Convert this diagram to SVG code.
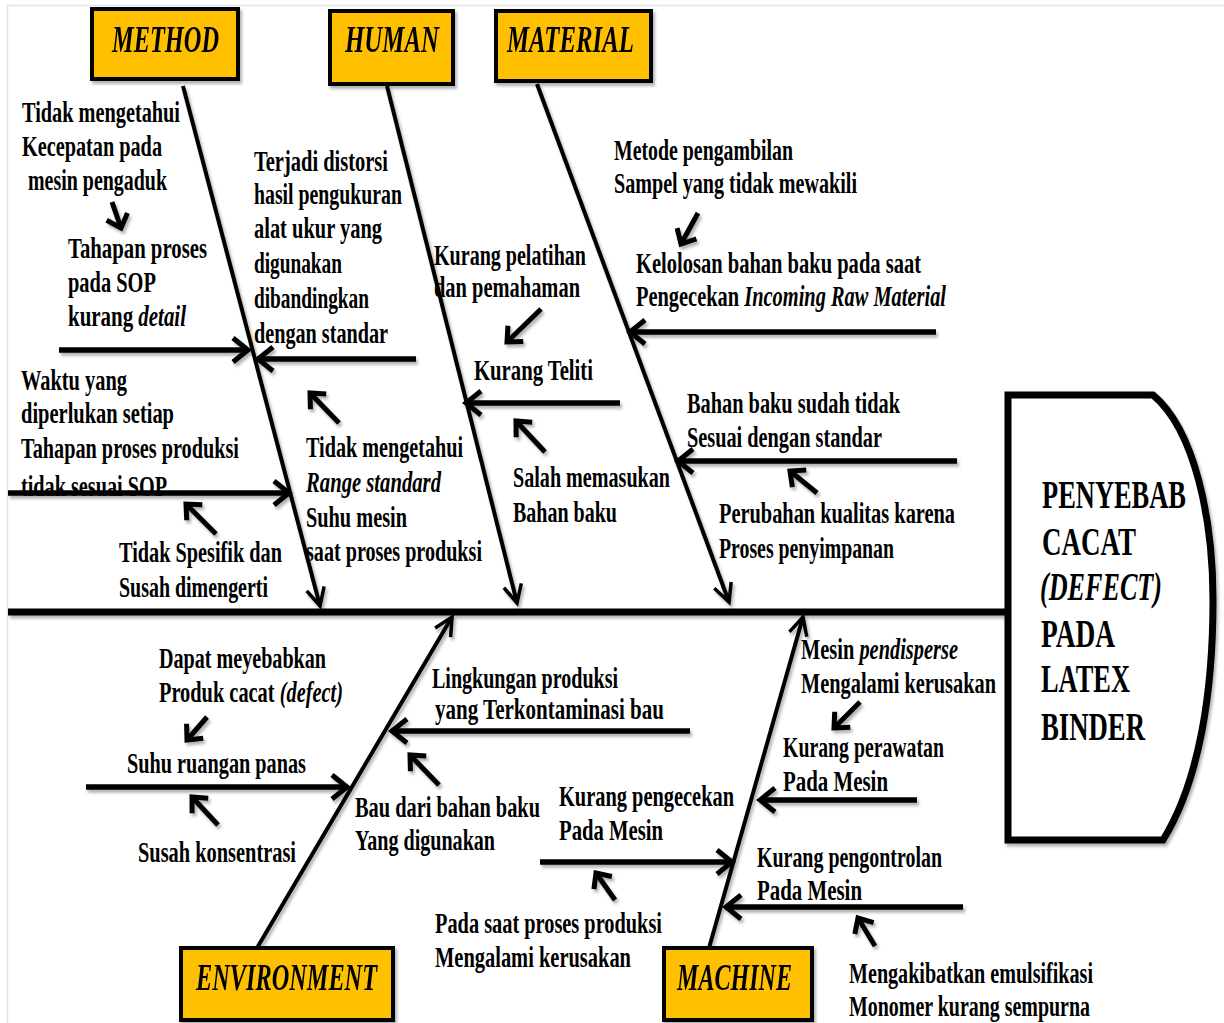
<svg xmlns="http://www.w3.org/2000/svg" width="1224" height="1023" viewBox="0 0 1224 1023">
<style>
.t{font-family:"Liberation Serif","Times New Roman",serif;font-weight:bold;font-size:29px;fill:#000}
.i{font-style:italic}
.lbl{font-size:37px;font-style:italic}
.hd{font-size:41px}
.box{fill:#FFC000;stroke:#000;stroke-width:4}
.ln{stroke:#000;fill:none}
.bone{stroke-width:4;marker-end:url(#mb)}
.ha{stroke-width:5.5;marker-end:url(#mh)}
.sa{stroke-width:5;marker-end:url(#ms)}
</style>
<defs>
<filter id="sh" x="-10%" y="-10%" width="120%" height="120%">
<feDropShadow dx="2" dy="3" stdDeviation="1.5" flood-color="#000" flood-opacity="0.3"/>
</filter>
<marker id="mb" markerUnits="userSpaceOnUse" viewBox="-25 -25 50 50" markerWidth="50" markerHeight="50" refX="0" refY="0" orient="auto">
<path d="M-18,-9 L0,0 L-18,9" fill="none" stroke="#000" stroke-width="3.5"/>
</marker>
<marker id="mh" markerUnits="userSpaceOnUse" viewBox="-25 -25 50 50" markerWidth="50" markerHeight="50" refX="0" refY="0" orient="auto">
<path d="M-15,-12 L0,0 L-15,12" fill="none" stroke="#000" stroke-width="5"/>
</marker>
<marker id="ms" markerUnits="userSpaceOnUse" viewBox="-25 -25 50 50" markerWidth="50" markerHeight="50" refX="0" refY="0" orient="auto">
<path d="M-12,-11 L0,0 L-12,11" fill="none" stroke="#000" stroke-width="5"/>
</marker>
</defs>
<rect width="1224" height="1023" fill="#fff"/>
<path d="M7.5,1023 V5.5 H1224" fill="none" stroke="#e4e4e4" stroke-width="1.5"/>

<g id="labels" class="t">
<text x="22" y="122" textLength="158" lengthAdjust="spacingAndGlyphs">Tidak mengetahui</text>
<text x="22" y="156" textLength="140" lengthAdjust="spacingAndGlyphs">Kecepatan pada</text>
<text x="28" y="190" textLength="139" lengthAdjust="spacingAndGlyphs">mesin pengaduk</text>
<text x="68" y="258" textLength="139" lengthAdjust="spacingAndGlyphs">Tahapan proses</text>
<text x="68" y="292" textLength="88" lengthAdjust="spacingAndGlyphs">pada SOP</text>
<text x="68" y="326" textLength="118" lengthAdjust="spacingAndGlyphs">kurang <tspan class="i">detail</tspan></text>
<text x="254" y="171" textLength="134" lengthAdjust="spacingAndGlyphs">Terjadi distorsi</text>
<text x="254" y="204" textLength="148" lengthAdjust="spacingAndGlyphs">hasil pengukuran</text>
<text x="254" y="238" textLength="128" lengthAdjust="spacingAndGlyphs">alat ukur yang</text>
<text x="254" y="273" textLength="88" lengthAdjust="spacingAndGlyphs">digunakan</text>
<text x="254" y="308" textLength="115" lengthAdjust="spacingAndGlyphs">dibandingkan</text>
<text x="254" y="343" textLength="134" lengthAdjust="spacingAndGlyphs">dengan standar</text>
<text x="21" y="390" textLength="106" lengthAdjust="spacingAndGlyphs">Waktu yang</text>
<text x="21" y="423" textLength="153" lengthAdjust="spacingAndGlyphs">diperlukan  setiap</text>
<text x="21" y="458" textLength="218" lengthAdjust="spacingAndGlyphs">Tahapan proses produksi</text>
<text x="21" y="496" textLength="146" lengthAdjust="spacingAndGlyphs">tidak sesuai SOP</text>
<text x="119" y="562" textLength="163" lengthAdjust="spacingAndGlyphs">Tidak Spesifik dan</text>
<text x="119" y="597" textLength="149" lengthAdjust="spacingAndGlyphs">Susah dimengerti</text>
<text x="306" y="457" textLength="157" lengthAdjust="spacingAndGlyphs">Tidak  mengetahui</text>
<text x="306" y="492" textLength="135" lengthAdjust="spacingAndGlyphs" class="i">Range standard</text>
<text x="306" y="527" textLength="101" lengthAdjust="spacingAndGlyphs">Suhu  mesin</text>
<text x="306" y="561" textLength="176" lengthAdjust="spacingAndGlyphs">saat proses produksi</text>
<text x="434" y="265" textLength="152" lengthAdjust="spacingAndGlyphs">Kurang pelatihan</text>
<text x="434" y="297" textLength="146" lengthAdjust="spacingAndGlyphs">dan pemahaman</text>
<text x="474" y="380" textLength="119" lengthAdjust="spacingAndGlyphs">Kurang  Teliti</text>
<text x="513" y="487" textLength="157" lengthAdjust="spacingAndGlyphs">Salah memasukan</text>
<text x="513" y="522" textLength="104" lengthAdjust="spacingAndGlyphs">Bahan baku</text>
<text x="614" y="160" textLength="179" lengthAdjust="spacingAndGlyphs">Metode pengambilan</text>
<text x="614" y="193" textLength="243" lengthAdjust="spacingAndGlyphs">Sampel yang tidak mewakili</text>
<text x="636" y="273" textLength="285" lengthAdjust="spacingAndGlyphs">Kelolosan bahan baku pada saat</text>
<text x="636" y="306" textLength="310" lengthAdjust="spacingAndGlyphs">Pengecekan <tspan class="i">Incoming Raw Material</tspan></text>
<text x="687" y="413" textLength="213" lengthAdjust="spacingAndGlyphs">Bahan baku sudah tidak</text>
<text x="687" y="447" textLength="195" lengthAdjust="spacingAndGlyphs">Sesuai dengan standar</text>
<text x="719" y="523" textLength="236" lengthAdjust="spacingAndGlyphs">Perubahan  kualitas karena</text>
<text x="719" y="558" textLength="175" lengthAdjust="spacingAndGlyphs">Proses penyimpanan</text>
<text x="159" y="668" textLength="167" lengthAdjust="spacingAndGlyphs">Dapat meyebabkan</text>
<text x="159" y="702" textLength="184" lengthAdjust="spacingAndGlyphs">Produk  cacat <tspan class="i">(defect)</tspan></text>
<text x="127" y="773" textLength="179" lengthAdjust="spacingAndGlyphs">Suhu  ruangan  panas</text>
<text x="138" y="862" textLength="158" lengthAdjust="spacingAndGlyphs">Susah konsentrasi</text>
<text x="355" y="817" textLength="185" lengthAdjust="spacingAndGlyphs">Bau dari bahan baku</text>
<text x="355" y="850" textLength="140" lengthAdjust="spacingAndGlyphs">Yang digunakan</text>
<text x="432" y="688" textLength="186" lengthAdjust="spacingAndGlyphs">Lingkungan  produksi</text>
<text x="435" y="719" textLength="229" lengthAdjust="spacingAndGlyphs">yang Terkontaminasi  bau</text>
<text x="801" y="659" textLength="157" lengthAdjust="spacingAndGlyphs">Mesin <tspan class="i">pendisperse</tspan></text>
<text x="801" y="693" textLength="195" lengthAdjust="spacingAndGlyphs">Mengalami kerusakan</text>
<text x="783" y="757" textLength="161" lengthAdjust="spacingAndGlyphs">Kurang  perawatan</text>
<text x="783" y="791" textLength="105" lengthAdjust="spacingAndGlyphs">Pada  Mesin</text>
<text x="559" y="806" textLength="175" lengthAdjust="spacingAndGlyphs">Kurang  pengecekan</text>
<text x="559" y="840" textLength="104" lengthAdjust="spacingAndGlyphs">Pada  Mesin</text>
<text x="757" y="867" textLength="185" lengthAdjust="spacingAndGlyphs">Kurang  pengontrolan</text>
<text x="757" y="900" textLength="105" lengthAdjust="spacingAndGlyphs">Pada  Mesin</text>
<text x="435" y="933" textLength="227" lengthAdjust="spacingAndGlyphs">Pada saat proses produksi</text>
<text x="435" y="967" textLength="196" lengthAdjust="spacingAndGlyphs">Mengalami kerusakan</text>
<text x="849" y="983" textLength="244" lengthAdjust="spacingAndGlyphs">Mengakibatkan emulsifikasi</text>
<text x="849" y="1016" textLength="241" lengthAdjust="spacingAndGlyphs">Monomer kurang sempurna</text>
</g>

<g id="connectors" class="ln" filter="url(#sh)">
<line x1="8" y1="612" x2="1008" y2="612" stroke="#000" stroke-width="7"/>
<line class="ln bone" x1="183" y1="86" x2="320" y2="606"/>
<line class="ln bone" x1="387" y1="86" x2="517" y2="603"/>
<line class="ln bone" x1="537" y1="84" x2="729" y2="602"/>
<line class="ln bone" x1="257" y1="948" x2="452" y2="617"/>
<line class="ln bone" x1="709" y1="948" x2="803" y2="617"/>
<line class="ln ha" x1="59" y1="350" x2="248" y2="350"/>
<line class="ln ha" x1="416" y1="359" x2="258" y2="359"/>
<line class="ln ha" x1="8" y1="493" x2="289" y2="493"/>
<line class="ln ha" x1="620" y1="403" x2="466" y2="403"/>
<line class="ln ha" x1="936" y1="332" x2="630" y2="332"/>
<line class="ln ha" x1="957" y1="461" x2="678" y2="461"/>
<line class="ln ha" x1="690" y1="731" x2="392" y2="731"/>
<line class="ln ha" x1="86" y1="787" x2="347" y2="787"/>
<line class="ln ha" x1="917" y1="800" x2="760" y2="800"/>
<line class="ln ha" x1="540" y1="862" x2="732" y2="862"/>
<line class="ln ha" x1="963" y1="907" x2="726" y2="907"/>
<line class="ln sa" x1="112" y1="202" x2="121" y2="228"/>
<line class="ln sa" x1="339" y1="423" x2="310" y2="393"/>
<line class="ln sa" x1="216" y1="534" x2="186" y2="504"/>
<line class="ln sa" x1="541" y1="309" x2="507" y2="342"/>
<line class="ln sa" x1="545" y1="452" x2="516" y2="421"/>
<line class="ln sa" x1="698" y1="213" x2="681" y2="244"/>
<line class="ln sa" x1="817" y1="493" x2="790" y2="471"/>
<line class="ln sa" x1="207" y1="717" x2="187" y2="740"/>
<line class="ln sa" x1="218" y1="825" x2="192" y2="797"/>
<line class="ln sa" x1="439" y1="785" x2="410" y2="755"/>
<line class="ln sa" x1="860" y1="702" x2="834" y2="728"/>
<line class="ln sa" x1="615" y1="900" x2="596" y2="873"/>
<line class="ln sa" x1="875" y1="946" x2="858" y2="918"/>
</g>

<g id="node-method" filter="url(#sh)">
<rect class="box" x="92" y="9" width="146" height="70"/>
<text class="t lbl" x="112" y="52" textLength="107" lengthAdjust="spacingAndGlyphs">METHOD</text>
</g>
<g id="node-human" filter="url(#sh)">
<rect class="box" x="330" y="11" width="123" height="73"/>
<text class="t lbl" x="345" y="52" textLength="94" lengthAdjust="spacingAndGlyphs">HUMAN</text>
</g>
<g id="node-material" filter="url(#sh)">
<rect class="box" x="496" y="11" width="155" height="70"/>
<text class="t lbl" x="507" y="52" textLength="127" lengthAdjust="spacingAndGlyphs">MATERIAL</text>
</g>
<g id="node-environment" filter="url(#sh)">
<rect class="box" x="181" y="948" width="212" height="72"/>
<text class="t lbl" x="196" y="990" textLength="181" lengthAdjust="spacingAndGlyphs">ENVIRONMENT</text>
</g>
<g id="node-machine" filter="url(#sh)">
<rect class="box" x="664" y="948" width="148" height="72"/>
<text class="t lbl" x="677" y="990" textLength="115" lengthAdjust="spacingAndGlyphs">MACHINE</text>
</g>
<g id="node-effect">
<path d="M1008,395 H1153 C1195,430 1213,520 1213,600 C1213,690 1200,780 1163,840 H1008 Z" fill="#fff" stroke="#000" stroke-width="7" filter="url(#sh)"/>
<text class="t hd" x="1042" y="508" textLength="144" lengthAdjust="spacingAndGlyphs">PENYEBAB</text>
<text class="t hd" x="1042" y="555" textLength="94" lengthAdjust="spacingAndGlyphs">CACAT</text>
<text class="t hd i" x="1040" y="600" textLength="122" lengthAdjust="spacingAndGlyphs">(DEFECT)</text>
<text class="t hd" x="1041" y="647" textLength="74" lengthAdjust="spacingAndGlyphs">PADA</text>
<text class="t hd" x="1041" y="692" textLength="89" lengthAdjust="spacingAndGlyphs">LATEX</text>
<text class="t hd" x="1041" y="740" textLength="104" lengthAdjust="spacingAndGlyphs">BINDER</text>
</g>
</svg>
